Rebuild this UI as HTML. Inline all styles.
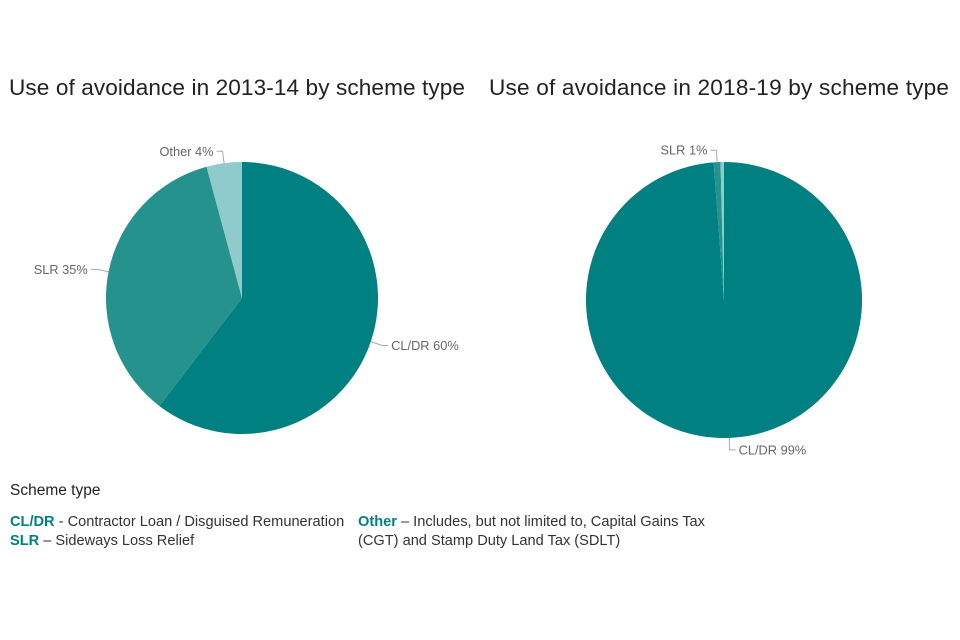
<!DOCTYPE html>
<html><head><meta charset="utf-8"><style>
body{margin:0;background:#fff;font-family:"Liberation Sans",sans-serif}
svg{display:block}
</style></head><body>
<svg width="960" height="640">
<text x="237" y="95" text-anchor="middle" font-size="22.6" fill="#222" textLength="456">Use of avoidance in 2013-14 by scheme type</text>
<text x="719" y="95" text-anchor="middle" font-size="22.6" fill="#222" textLength="460">Use of avoidance in 2018-19 by scheme type</text>
<g id="pies"></g>
<text x="10" y="495" font-size="15.5" fill="#222">Scheme type</text>
<text x="10" y="526" font-size="14.6" fill="#333"><tspan font-weight="bold" fill="#008080">CL/DR</tspan> - Contractor Loan / Disguised Remuneration</text>
<text x="10" y="545" font-size="14.6" fill="#333"><tspan font-weight="bold" fill="#008080">SLR</tspan> – Sideways Loss Relief</text>
<text x="358" y="526" font-size="14.6" fill="#333"><tspan font-weight="bold" fill="#008080">Other</tspan> – Includes, but not limited to, Capital Gains Tax</text>
<text x="358" y="545" font-size="14.6" fill="#333">(CGT) and Stamp Duty Land Tax (SDLT)</text>
</svg>
<script>
const categories = ["CL/DR","SLR","Other"];
const values2013 = [60.4, 35.4, 4.2];
const values2019 = [98.8, 0.8, 0.4];
const labels2013 = ["CL/DR 60%","SLR 35%","Other 4%"];
const labels2019 = ["CL/DR 99%","SLR 1%",""];
const colors = ["#008080","#26928e","#8fcbcc"];
const NS="http://www.w3.org/2000/svg";
const g=document.getElementById('pies');
function drawPie(vals,labels,cx,cy,r,key){
  const tot=vals.reduce((a,b)=>a+b,0);
  let a0=0;
  vals.forEach((v,i)=>{
    const a1=a0+v/tot*2*Math.PI;
    const p=(a)=>[cx+r*Math.sin(a),cy-r*Math.cos(a)];
    const [x0,y0]=p(a0),[x1,y1]=p(a1);
    const path=document.createElementNS(NS,'path');
    path.setAttribute('d',`M${cx},${cy}L${x0},${y0}A${r},${r} 0 ${a1-a0>Math.PI?1:0} 1 ${x1},${y1}Z`);
    path.setAttribute('fill',colors[i]);
    
    
    g.appendChild(path);
    if(labels[i]){
      const am=(a0+a1)/2;
      const e=[cx+(r+12)*Math.sin(am),cy-(r+12)*Math.cos(am)];
      const right=Math.sin(am)>=0;
      const ex=e[0]+(right?6:-6);
      const ln=document.createElementNS(NS,'polyline');
      const s=[cx+r*Math.sin(am),cy-r*Math.cos(am)];
      ln.setAttribute('points',`${s[0]},${s[1]} ${e[0]},${e[1]} ${ex},${e[1]}`);
      ln.setAttribute('fill','none');ln.setAttribute('stroke','#aaa');
      
      
      g.appendChild(ln);
      const t=document.createElementNS(NS,'text');
      t.setAttribute('x',ex+(right?3:-3));t.setAttribute('y',e[1]+4.5);
      t.setAttribute('text-anchor',right?'start':'end');
      t.setAttribute('font-size','12.8');t.setAttribute('fill','#666');
      t.textContent=labels[i];
      
      
      g.appendChild(t);
    }
    a0=a1;
  });
}
drawPie(values2013,labels2013,242,298,136,'2013');
drawPie(values2019,labels2019,724,300,138,'2019');
</script>
</body></html>
